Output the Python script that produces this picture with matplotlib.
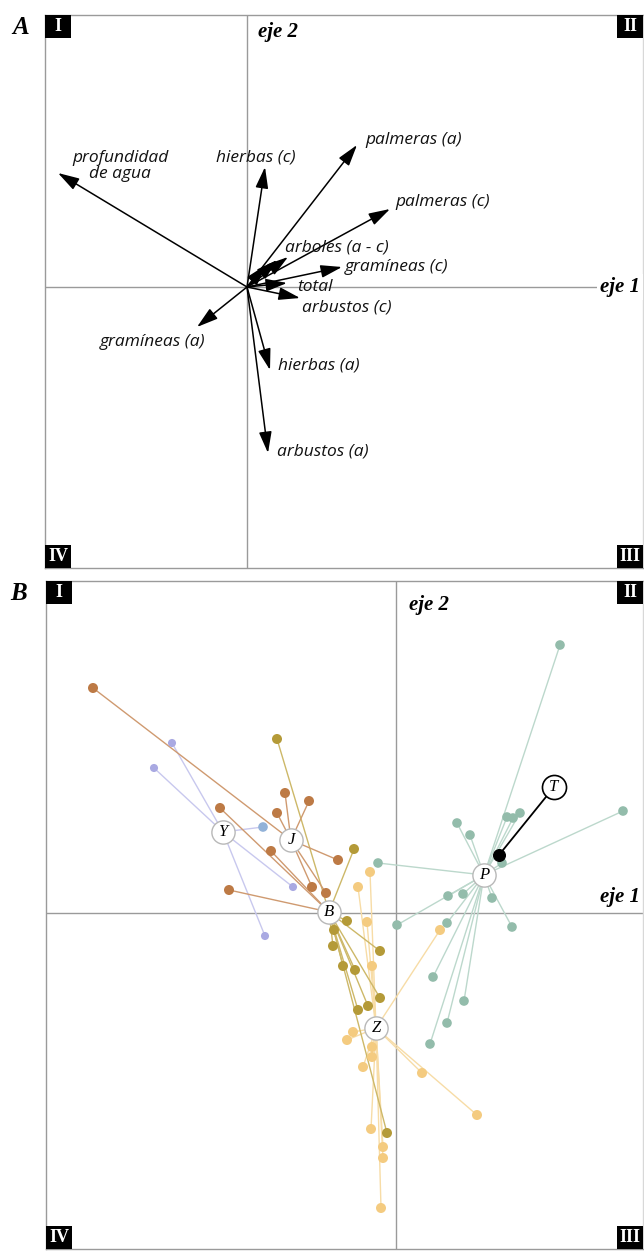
import matplotlib
matplotlib.use('Agg')
import matplotlib.pyplot as plt
from matplotlib.patches import Rectangle

# ---------------- Panel A data (biplot vectors, axis units) ----------------
vec_x = [-1.89, 0.18, 1.10, 1.43, 0.41, 0.30, 0.19, 0.95, 0.40, 0.53, -0.50, 0.23, 0.21]
vec_y = [1.14, 1.20, 1.42, 0.78, 0.30, 0.27, 0.22, 0.20, 0.04, -0.11, -0.40, -0.83, -1.66]

lab_text = ["profundidad\nde agua", "hierbas (c)", "palmeras (a)", "palmeras (c)",
            "arboles (a - c)", "gramíneas (c)", "total", "arbustos (c)",
            "gramíneas (a)", "hierbas (a)", "arbustos (a)"]
lab_x = [-1.27, -0.31, 1.18, 1.48, 0.38, 0.98, 0.50, 0.55, -0.42, 0.31, 0.30]
lab_y = [1.21, 1.30, 1.47, 0.85, 0.39, 0.20, 0.00, -0.20, -0.55, -0.79, -1.65]
lab_ha = ["center", "left", "left", "left", "left", "left", "left", "left",
          "right", "left", "left"]

# ---------------- Panel B data (site scores, axis units) ----------------
cent_name = ["Y", "J", "B", "Z", "P"]
cent_x = [-1.73, -1.05, -0.67, -0.20, 0.88]
cent_y = [0.81, 0.73, 0.01, -1.15, 0.38]

# lavender sites (linked to Y)
lav_x = [-2.24, -2.42, -1.33, -1.03, -1.31]
lav_y = [1.70, 1.45, 0.86, 0.26, -0.23]
lav_link = ["Y", "Y", "Y", "Y", "Y"]

# brown sites
brn_x = [-3.03, -1.76, -1.11, -0.87, -1.19, -1.25, -0.58, -1.67, -0.84, -0.70]
brn_y = [2.25, 1.05, 1.20, 1.12, 1.00, 0.62, 0.53, 0.23, 0.26, 0.20]
brn_link = ["J", "B", "J", "J", "J", "B", "J", "B", "J", "J"]

# olive sites (linked to B)
olv_x = [-1.19, -0.42, -0.49, -0.62, -0.63, -0.53, -0.41, -0.16, -0.16, -0.28, -0.38, -0.09]
olv_y = [1.74, 0.64, -0.08, -0.17, -0.33, -0.53, -0.57, -0.38, -0.85, -0.93, -0.97, -2.20]
olv_link = ["B"] * 12

# peach sites (linked to Z)
pch_x = [-0.26, -0.38, -0.29, 0.44, -0.24, -0.43, -0.49, -0.24, -0.24, -0.33, 0.26, 0.81,
         -0.25, -0.13, -0.13, -0.15]
pch_y = [0.41, 0.26, -0.09, -0.17, -0.53, -1.19, -1.27, -1.34, -1.44, -1.54, -1.60, -2.02,
         -2.16, -2.34, -2.45, -2.95]
pch_link = ["Z"] * 16

# teal sites (linked to P)
tel_x = [1.64, 2.27, 1.24, 0.61, 0.74, -0.18, 1.06, 0.52, 0.67, 0.96, 1.16, 0.01, 0.51,
         0.37, 0.68, 0.51, 0.34, 1.11, 1.17]
tel_y = [2.68, 1.02, 1.00, 0.90, 0.78, 0.50, 0.50, 0.17, 0.19, 0.15, -0.14, -0.12, -0.10,
         -0.64, -0.88, -1.10, -1.31, 0.96, 0.95]
tel_link = ["P"] * 19

# supplementary point T
T_label_x, T_label_y = 1.58, 1.26
T_dot_x, T_dot_y = 1.03, 0.58

# ---------------- figure ----------------
W, H = 644, 1251
fig = plt.figure(figsize=(W / 100, H / 100), dpi=100)

def px_axes(x0, y0, x1, y1):
    return fig.add_axes([x0 / W, 1 - y1 / H, (x1 - x0) / W, (y1 - y0) / H])

SERIF_BI = dict(family="Liberation Serif", weight="bold", style="italic")
LABF = dict(family="Open Sans", style="italic")

def frame(ax):
    ax.set_xticks([]); ax.set_yticks([])
    for s in ax.spines.values():
        s.set_color("#9a9a9a"); s.set_linewidth(1.0)
    ax.spines["right"].set_color("#d8d8d8")
    ax.axvline(0, color="#9a9a9a", lw=1.0, zorder=1)
    ax.axhline(0, color="#9a9a9a", lw=1.0, zorder=1)
    bw, bh = 26 / ax.bbox.width, 23 / ax.bbox.height
    corners = [("I", 0, 1 - bh), ("II", 1 - bw, 1 - bh), ("IV", 0, 0), ("III", 1 - bw, 0)]
    for txt, x, y in corners:
        ax.add_patch(Rectangle((x, y), bw, bh, transform=ax.transAxes,
                               facecolor="black", edgecolor="none", zorder=10, clip_on=False))
        ax.text(x + bw / 2, y + bh / 2, txt, transform=ax.transAxes, color="white",
                ha="center", va="center", fontsize=13, family="Liberation Serif",
                weight="bold", zorder=11)

# ---------- Panel A ----------
axA = px_axes(45, 15, 643, 568)
axA.set_xlim(-2.02, 3.96)
axA.set_ylim(-2.81, 2.72)
frame(axA)
for vx, vy in zip(vec_x, vec_y):
    axA.annotate("", xy=(vx, vy), xytext=(0, 0),
                 arrowprops=dict(arrowstyle="-|>,head_length=1.0,head_width=0.3",
                                 color="black", lw=1.1, shrinkA=0, shrinkB=0,
                                 mutation_scale=13), zorder=5)
for t, x, y, ha in zip(lab_text, lab_x, lab_y, lab_ha):
    axA.text(x, y, t, ha=ha, va="center", fontsize=12.5, color="#111111",
             linespacing=0.95, zorder=6, **LABF)
axA.text(0.11, 2.55, "eje 2", ha="left", va="center", fontsize=15, **SERIF_BI)
axA.text(3.93, 0.0, "eje 1", ha="right", va="center", fontsize=15,
         bbox=dict(facecolor="white", edgecolor="none", pad=2), zorder=7, **SERIF_BI)
fig.text(12 / W, 1 - 27 / H, "A", ha="left", va="center", fontsize=18, **SERIF_BI)

# ---------- Panel B ----------
axB = px_axes(46, 581, 643, 1249)
axB.set_xlim(-3.50, 2.47)
axB.set_ylim(-3.36, 3.32)
frame(axB)

cent = {n: (x, y) for n, x, y in zip(cent_name, cent_x, cent_y)}
groups = [
    (lav_x, lav_y, lav_link, "#a9a9e2", "#c8c8ee", 34),
    (tel_x, tel_y, tel_link, "#93bcab", "#bcd8cc", 48),
    (pch_x, pch_y, pch_link, "#f4cb80", "#f7dca6", 52),
    (olv_x, olv_y, olv_link, "#b49a38", "#cdb868", 52),
    (brn_x, brn_y, brn_link, "#bd7a45", "#cf9a70", 52),
]
for gx, gy, gl, col, lcol, sz in groups:
    for x, y, l in zip(gx, gy, gl):
        cx, cy = cent[l]
        axB.plot([x, cx], [y, cy], color=lcol, lw=1.0, zorder=2, solid_capstyle="round")
for gx, gy, gl, col, lcol, sz in groups:
    axB.scatter(gx, gy, s=sz, color=col, edgecolors="none", zorder=3)
# light-blue site
axB.scatter([lav_x[2]], [lav_y[2]], s=48, color="#92b2d8", edgecolors="none", zorder=3)

axB.scatter(cent_x, cent_y, s=280, facecolor="white", edgecolor="#b8b8b8", lw=1.0, zorder=6)
for n, x, y in zip(cent_name, cent_x, cent_y):
    axB.text(x, y, n, ha="center", va="center", fontsize=12, family="Liberation Serif",
             style="italic", zorder=7)

axB.plot([T_dot_x, T_label_x], [T_dot_y, T_label_y], color="black", lw=1.3, zorder=8)
axB.scatter([T_dot_x], [T_dot_y], s=70, color="black", zorder=9)
axB.scatter([T_label_x], [T_label_y], s=300, facecolor="white", edgecolor="black", lw=1.2, zorder=9)
axB.text(T_label_x, T_label_y, "T", ha="center", va="center", fontsize=12,
         family="Liberation Serif", style="italic", zorder=10)

axB.text(0.13, 3.08, "eje 2", ha="left", va="center", fontsize=15, **SERIF_BI)
axB.text(2.44, 0.16, "eje 1", ha="right", va="center", fontsize=15, **SERIF_BI)
fig.text(10 / W, 1 - 594 / H, "B", ha="left", va="center", fontsize=18, **SERIF_BI)

fig.savefig("out.png", dpi=100, facecolor="white")
